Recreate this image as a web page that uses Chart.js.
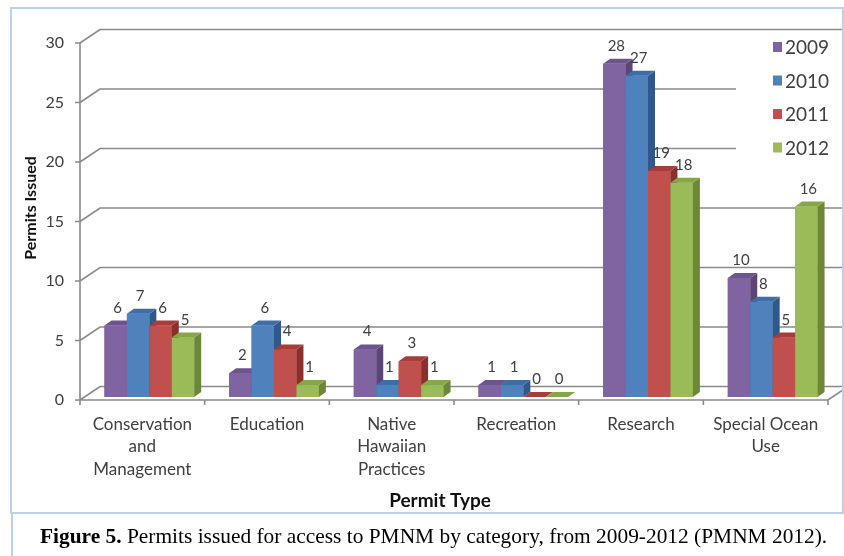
<!DOCTYPE html>
<html>
<head>
<meta charset="utf-8">
<title>Permits issued for access to PMNM</title>
<script src="https://cdn.jsdelivr.net/npm/chart.js@4.4.1/dist/chart.umd.min.js"></script>
<style>
  html, body { margin: 0; padding: 0; background: #fff; }
  #wrap { position: relative; width: 844px; height: 556px; overflow: hidden; }
  #chart-box { position: absolute; left: 0; top: 0; width: 844px; height: 513px; }
  #panel {
    position: absolute; left: 10px; top: 7px; width: 834px; height: 507px;
    border: 2px solid #b7d1ee; box-sizing: border-box; pointer-events: none;
  }
  #caption {
    position: absolute; left: 11px; top: 513px; width: 833px; height: 43px;
    border-left: 2px solid #b7d1ee; box-sizing: border-box;
    font-family: "Liberation Serif", "Times New Roman", serif; font-size: 21.4px;
    color: #000; padding-left: 27px; line-height: 46px; white-space: nowrap;
  }
</style>
</head>
<body>
<div id="wrap">
  <div id="chart-box"><canvas id="permitsChart" width="844" height="513"></canvas></div>
  <div id="panel"></div>
  <div id="caption"><b>Figure 5.</b> Permits issued for access to PMNM by category, from 2009-2012 (PMNM 2012).</div>
</div>
<script>
// data
const categories = [
  ["Conservation", "and", "Management"],
  "Education",
  ["Native", "Hawaiian", "Practices"],
  "Recreation",
  "Research",
  ["Special Ocean", "Use"]
];
const years = ["2009", "2010", "2011", "2012"];
const permits2009 = [6, 2, 4, 1, 28, 10];
const permits2010 = [7, 6, 1, 1, 27, 8];
const permits2011 = [6, 4, 3, 0, 19, 5];
const permits2012 = [5, 1, 1, 0, 18, 16];
const yTicks = [0, 5, 10, 15, 20, 25, 30];

// office 2007 palette: front, top, side
const frontColors = ["#8064a2", "#4f81bd", "#c0504d", "#9bbb59"];
const topColors = ["#6d548e", "#3e6ea8", "#a53e3b", "#86a647"];
const sideColors = ["#5a4576", "#30598b", "#8a2f2c", "#6c8837"];

const FONT = "Lato, 'Open Sans', sans-serif";
const TEXT = "#404040";
const LINE = "#8a8a8a";

// offsets relative to the bar plane
const FRONT = { dx: -7, dy: 3 };
const BACK = { dx: 13, dy: -10.5 };
const DEPTH = { dx: 7, dy: -5 };

const threeD = {
  id: "threeD",
  beforeDatasetsDraw(chart) {
    const { ctx, scales: { x, y } } = chart;
    const catW = (x.right - x.left) / categories.length;
    ctx.save();
    ctx.strokeStyle = LINE;
    ctx.lineWidth = 1.6;
    ctx.beginPath();
    yTicks.forEach(v => {
      const py = y.getPixelForValue(v);
      const fx = x.left + FRONT.dx, fy = py + FRONT.dy;
      const bx = x.left + BACK.dx, by = py + BACK.dy;
      // tick mark, diagonal on the side wall, line on the back wall
      ctx.moveTo(fx - 5, fy); ctx.lineTo(fx, fy);
      ctx.moveTo(fx, fy); ctx.lineTo(bx, by);
      ctx.lineTo(x.right + BACK.dx, by);
    });
    // front axis
    const y0 = y.getPixelForValue(0) + FRONT.dy;
    const yTop = y.getPixelForValue(yTicks[yTicks.length - 1]) + FRONT.dy;
    ctx.moveTo(x.left + FRONT.dx, yTop);
    ctx.lineTo(x.left + FRONT.dx, y0);
    // floor front edge and right diagonal
    ctx.lineTo(x.right + FRONT.dx, y0);
    ctx.lineTo(x.right + BACK.dx, y.getPixelForValue(0) + BACK.dy);
    // category tick marks
    for (let i = 0; i <= categories.length; i++) {
      const px = x.left + FRONT.dx + i * catW;
      ctx.moveTo(px, y0);
      ctx.lineTo(px, y0 + 5);
    }
    ctx.stroke();

    // legend box covers the back wall lines
    ctx.fillStyle = "#fff";
    ctx.fillRect(736, 33, 106, 132);
    ctx.restore();
  },
  afterDatasetsDraw(chart) {
    const { ctx } = chart;
    ctx.save();
    // redraw every bar as a box, 2009 first so each covers the side of the previous one
    chart.data.datasets.forEach((ds, i) => {
      chart.getDatasetMeta(i).data.forEach(bar => {
        const { x, y, base, width } = bar.getProps(["x", "y", "base", "width"], true);
        const l = x - width / 2, r = x + width / 2;
        ctx.fillStyle = frontColors[i];
        ctx.fillRect(l, y, width, base - y);
        ctx.fillStyle = sideColors[i];
        ctx.beginPath();
        ctx.moveTo(r, y);
        ctx.lineTo(r + DEPTH.dx, y + DEPTH.dy);
        ctx.lineTo(r + DEPTH.dx, base + DEPTH.dy);
        ctx.lineTo(r, base);
        ctx.closePath();
        ctx.fill();
        ctx.fillStyle = topColors[i];
        ctx.beginPath();
        ctx.moveTo(l, y);
        ctx.lineTo(l + DEPTH.dx, y + DEPTH.dy);
        ctx.lineTo(r + DEPTH.dx, y + DEPTH.dy);
        ctx.lineTo(r, y);
        ctx.closePath();
        ctx.fill();
      });
    });

    // value labels
    ctx.font = "15px " + FONT;
    ctx.fillStyle = TEXT;
    ctx.textAlign = "center";
    ctx.textBaseline = "alphabetic";
    chart.data.datasets.forEach((ds, i) => {
      chart.getDatasetMeta(i).data.forEach((bar, j) => {
        const { x, y } = bar.getProps(["x", "y"], true);
        ctx.fillText(String(ds.data[j]), x + 2, y - 13);
      });
    });

    // legend
    ctx.font = "19px " + FONT;
    ctx.textAlign = "left";
    ctx.textBaseline = "middle";
    years.forEach((yr, i) => {
      const cy = 47 + i * 33.5;
      ctx.fillStyle = frontColors[i];
      ctx.fillRect(773, cy - 5, 9, 10);
      ctx.fillStyle = TEXT;
      ctx.fillText(yr, 785, cy + 1);
    });

    // axis titles
    ctx.fillStyle = "#111";
    ctx.textAlign = "center";
    ctx.font = "bold 19px " + FONT;
    ctx.fillText("Permit Type", 440, 501);
    ctx.font = "bold 16px " + FONT;
    ctx.translate(31, 208);
    ctx.rotate(-Math.PI / 2);
    ctx.fillText("Permits Issued", 0, 0);
    ctx.restore();
  }
};

const datasets = [permits2009, permits2010, permits2011, permits2012].map((vals, i) => ({
  label: years[i],
  data: vals,
  backgroundColor: frontColors[i],
  borderWidth: 0
}));

new Chart(document.getElementById("permitsChart"), {
  type: "bar",
  data: { labels: categories, datasets: datasets },
  options: {
    responsive: false,
    animation: false,
    layout: { padding: { top: 40, right: 9, left: 0, bottom: 0 } },
    datasets: { bar: { categoryPercentage: 0.72, barPercentage: 1 } },
    plugins: { legend: { display: false }, tooltip: { enabled: false } },
    scales: {
      x: {
        grid: { display: false, drawTicks: false },
        border: { display: false },
        ticks: {
          autoSkip: false, maxRotation: 0, padding: 16, labelOffset: -7,
          color: TEXT, font: { family: FONT, size: 17, lineHeight: 1.33 }
        },
        afterFit: s => { s.height = 116; }
      },
      y: {
        min: 0, max: 30,
        grid: { display: false, drawTicks: false },
        border: { display: false },
        ticks: {
          padding: 23, labelOffset: 3,
          color: TEXT, font: { family: FONT, size: 16 }
        },
        afterBuildTicks: s => { s.ticks = yTicks.map(v => ({ value: v })); },
        afterFit: s => { s.width = 87; }
      }
    }
  },
  plugins: [threeD]
});
</script>
</body>
</html>
